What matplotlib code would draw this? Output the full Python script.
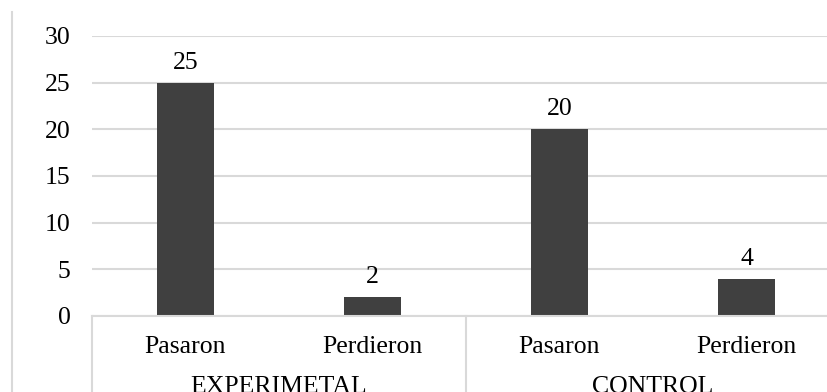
import matplotlib
matplotlib.use("Agg")
import matplotlib.pyplot as plt
from matplotlib.transforms import blended_transform_factory, offset_copy

categories = ["Pasaron", "Perdieron", "Pasaron", "Perdieron"]
groups = ["EXPERIMETAL", "CONTROL"]
values = [25, 2, 20, 4]
yticks = [0, 5, 10, 15, 20, 25, 30]

W, H = 828, 392
plt.rcParams['font.family'] = ['Liberation Serif', 'DejaVu Serif']
FS = 18.5
fig = plt.figure(figsize=(W / 100, H / 100), dpi=100)

# plot area in pixels: x 92..840, y 36..316
ax = fig.add_axes([92 / W, (H - 316) / H, 748 / W, 280 / H])
bar_color = "#404040"
grid_color = "#d9d9d9"

x = list(range(len(values)))
ax.bar(x, values, width=0.31, color=bar_color, zorder=3)
ax.set_xlim(-0.5, len(values) - 0.5)
ax.set_ylim(0, 30)
ax.set_yticks(yticks)
ax.set_yticklabels([str(t) for t in yticks], fontsize=FS)
ax.tick_params(axis='y', length=0, pad=15.5)
ax.set_xticks([])
ax.yaxis.grid(True, color=grid_color, linewidth=1.5, zorder=0)
for s in ["top", "right", "left"]:
    ax.spines[s].set_visible(False)
ax.spines["bottom"].set_color(grid_color)
ax.spines["bottom"].set_linewidth(1.5)
ax.spines["bottom"].set_zorder(4)

# data labels
for xi, v in zip(x, values):
    t = offset_copy(ax.transData, fig=fig, x=0, y=14, units='dots')
    ax.text(xi, v, str(v), ha='center', va='baseline', fontsize=FS, transform=t)

# category labels
btr = blended_transform_factory(ax.transData, fig.transFigure)
for xi, c in zip(x, categories):
    ax.text(xi, (H - 353) / H, c, ha='center', va='baseline', fontsize=FS, transform=btr)
# group labels
for gi, g in enumerate(groups):
    ax.text(gi * 2 + 0.5, (H - 393) / H, g, ha='center', va='baseline', fontsize=FS,
            transform=btr, clip_on=False)

# group separators
for sx in [-0.5, 1.5, 3.5]:
    ax.plot([sx, sx], [316 / H * 0 + (H - 316) / H, -0.05], transform=btr,
            color=grid_color, linewidth=1.5, clip_on=False)

# outer chart border (left edge)
fig.add_artist(plt.Line2D([12 / W, 12 / W], [0, (H - 12) / H], transform=fig.transFigure,
                          color=grid_color, linewidth=1.5))

fig.savefig("out.png", dpi=100)
